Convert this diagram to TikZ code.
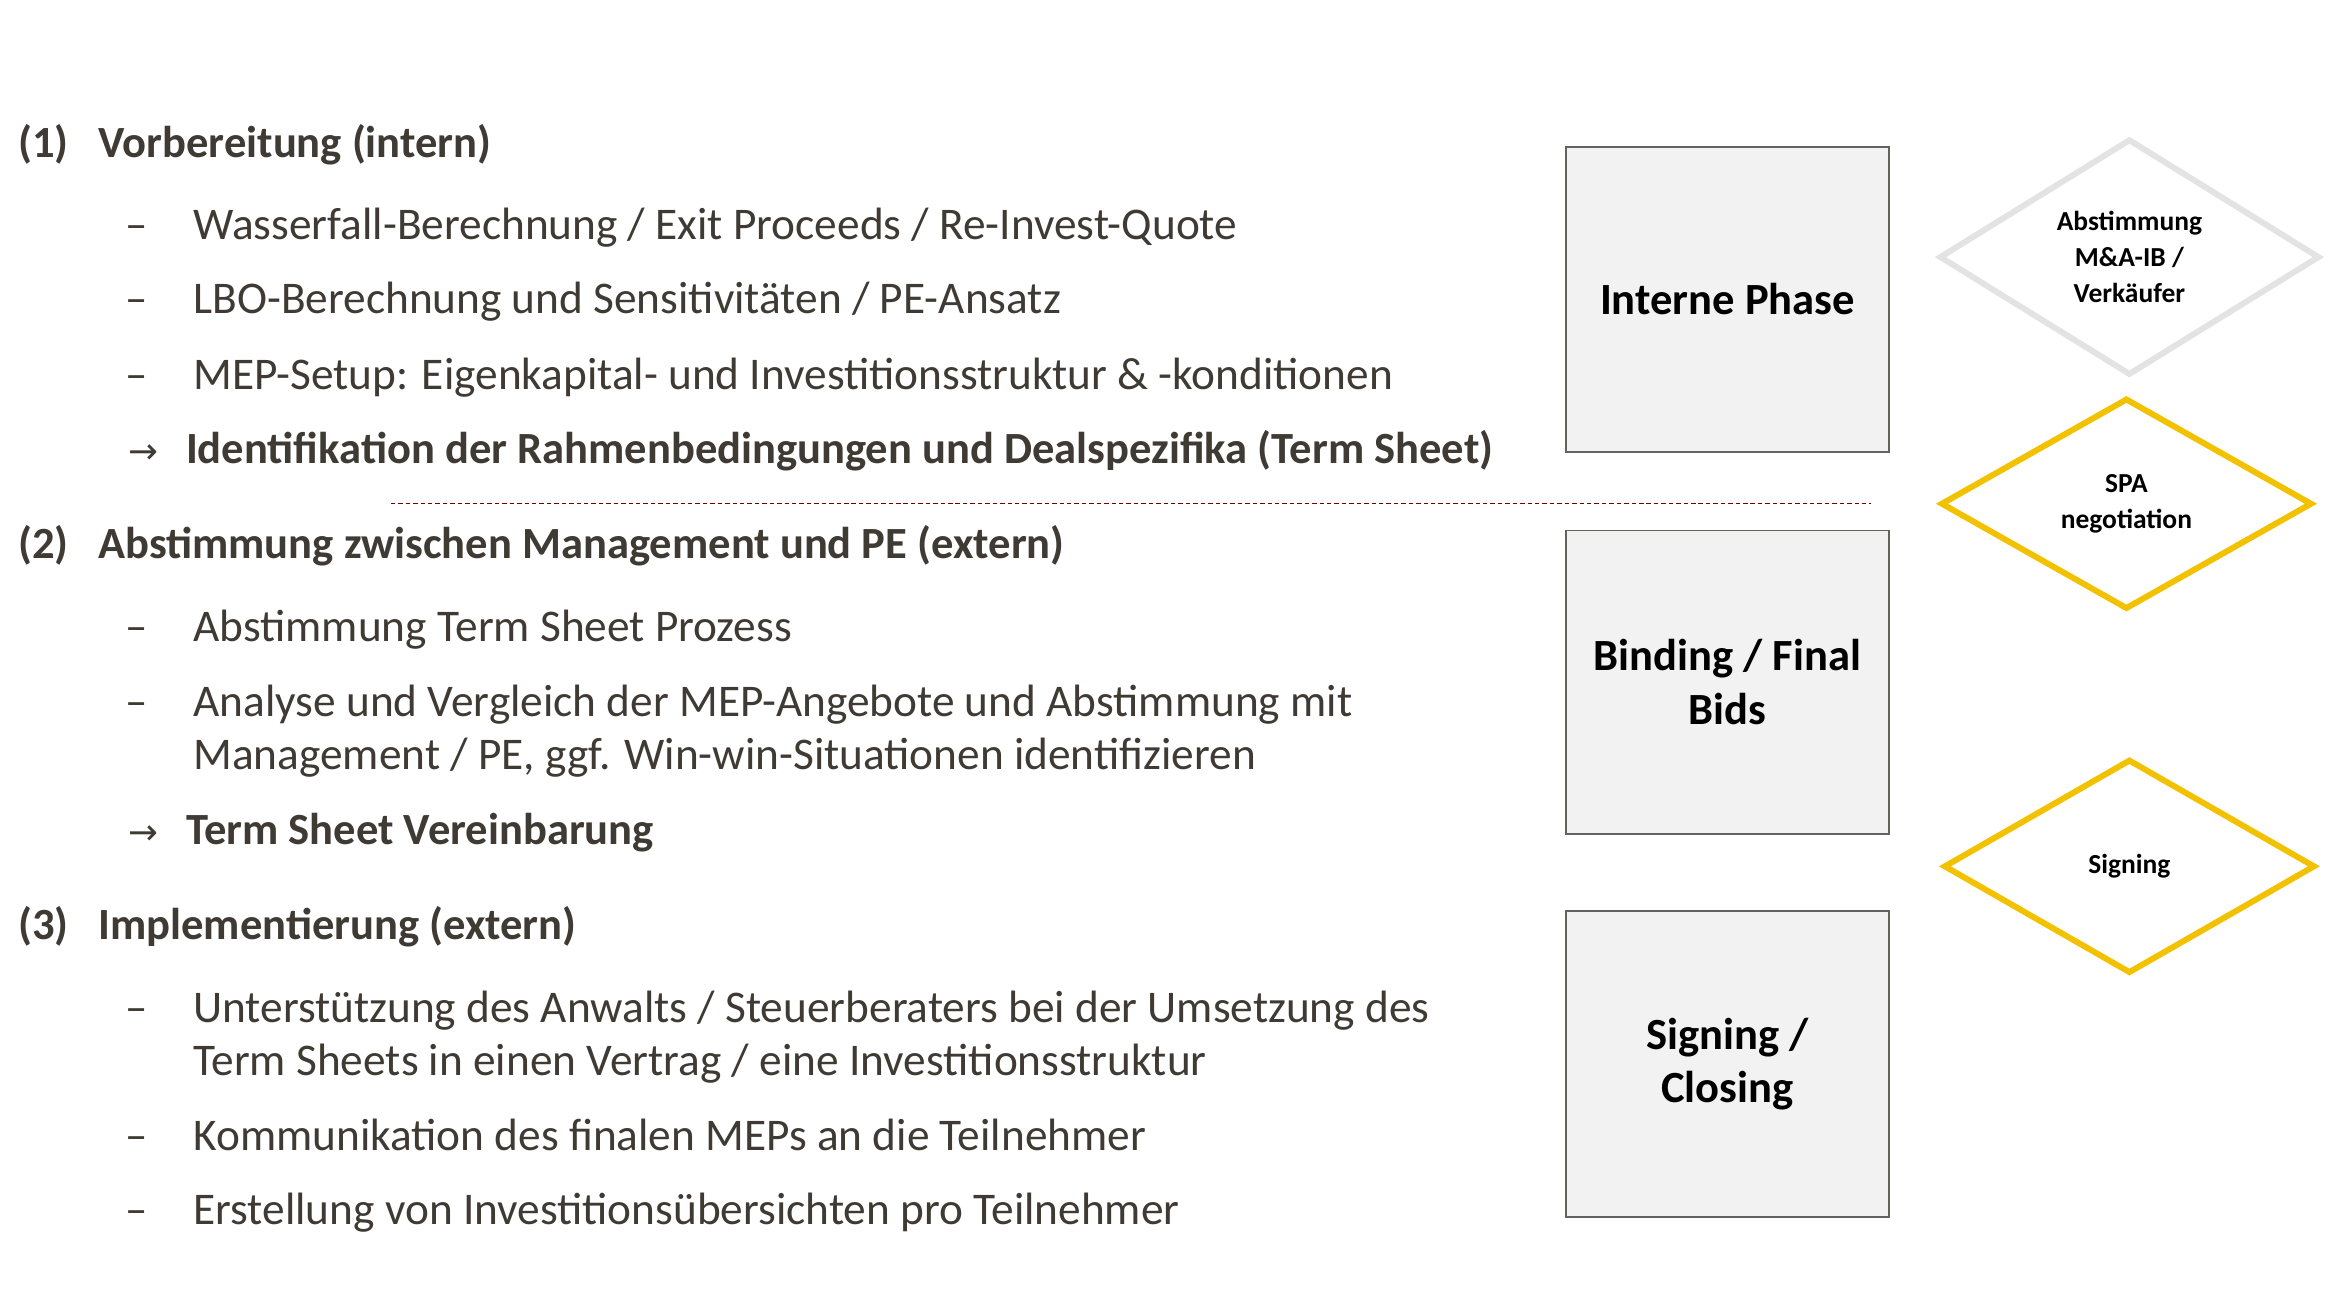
\documentclass[tikz,border=0pt]{standalone}
\usepackage{fontspec}
\setmainfont{Carlito}
\newfontfamily\symf{DejaVu Sans}
\usetikzlibrary{shapes.geometric}
\definecolor{txt}{HTML}{3F3A33}
\definecolor{ylw}{HTML}{F2C200}
\definecolor{lgray}{HTML}{E3E3E3}
\begin{document}
\begin{tikzpicture}[x=1pt,y=-1pt,
  hd/.style={anchor=base west,inner sep=0,text=txt,font=\fontsize{30}{36}\selectfont\bfseries},
  it/.style={anchor=base west,inner sep=0,text=txt,font=\fontsize{30.5}{36}\selectfont,align=left},
  ds/.style={anchor=base west,inner sep=0,text=txt,font=\fontsize{30}{36}\selectfont},
  ar/.style={anchor=base west,inner sep=0,text=txt,font=\symf\fontsize{24}{30}\selectfont},
  phase/.style={draw=txt!80,line width=1.2pt,fill=black!5,minimum width=217pt,align=center,text=black,font=\fontsize{30}{36}\selectfont\bfseries,inner sep=0},
  dia/.style={diamond,line width=4pt,align=center,text=black,font=\fontsize{18.5}{24}\selectfont\bfseries,inner sep=0}]
\useasboundingbox[fill=white] (0,0) rectangle (1568,876);
% section 1
\node[hd] (h1n) at (12,106) {(1)};
\node[hd] (h1) at (66,106) {Vorbereitung (intern)};
\foreach \y/\t in {161/{Wasserfall-Berechnung / Exit Proceeds / Re-Invest-Quote},211/{LBO-Berechnung und Sensitivitäten / PE-Ansatz},262/{MEP-Setup: Eigenkapital- und Investitionsstruktur \& -konditionen}}{
  \node[ds] at (84,\y) {–};
  \node[it] at (130,\y) {\t};}
\node[ar] (a1) at (86,312) {→};
\node[hd] (r1) at (125,312) {Identifikation der Rahmenbedingungen und Dealspezifika (Term Sheet)};
\coordinate (dl) at (263,339); \coordinate (dr) at (1259,339);
\draw[red!45!black,dashed,dash pattern=on 3pt off 2pt,line width=0.6pt] (dl) -- (dr);
% section 2
\node[hd] (h2n) at (12,376) {(2)};
\node[hd] (h2) at (66,376) {Abstimmung zwischen Management und PE (extern)};
\node[ds] at (84,432) {–};
\node[it] at (130,432) {Abstimmung Term Sheet Prozess};
\node[ds] at (84,482) {–};
\node[it] at (130,482) {Analyse und Vergleich der MEP-Angebote und Abstimmung mit};
\node[it] at (130,518) {Management / PE, ggf. Win-win-Situationen identifizieren};
\node[ar] (a2) at (86,568) {→};
\node[hd] (r2) at (125,568) {Term Sheet Vereinbarung};
% section 3
\node[hd] (h3n) at (12,632) {(3)};
\node[hd] (h3) at (66,632) {Implementierung (extern)};
\node[ds] at (84,688) {–};
\node[it] at (130,688) {Unterstützung des Anwalts / Steuerberaters bei der Umsetzung des};
\node[it] at (130,724) {Term Sheets in einen Vertrag / eine Investitionsstruktur};
\node[ds] at (84,774) {–};
\node[it] at (130,774) {Kommunikation des finalen MEPs an die Teilnehmer};
\node[ds] at (84,824) {–};
\node[it] at (130,824) {Erstellung von Investitionsübersichten pro Teilnehmer};
% phase boxes
\node[phase,minimum height=205pt] (p1) at (1162.5,201.5) {Interne Phase};
\node[phase,minimum height=204pt] (p2) at (1162.5,459) {Binding / Final\\Bids};
\node[phase,minimum height=206pt] (p3) at (1162.5,716) {Signing /\\Closing};
% diamonds
\node[dia,draw=lgray,minimum width=256pt,minimum height=144pt] (d1) at (1433,173) {Abstimmung\\M\&A-IB /\\Verkäufer};
\node[dia,draw=ylw,minimum width=250pt,minimum height=142pt] (d2) at (1431,339) {SPA\\negotiation};
\node[dia,draw=ylw,minimum width=250pt,minimum height=144pt] (d3) at (1433,583) {Signing};
\end{tikzpicture}
\end{document}
